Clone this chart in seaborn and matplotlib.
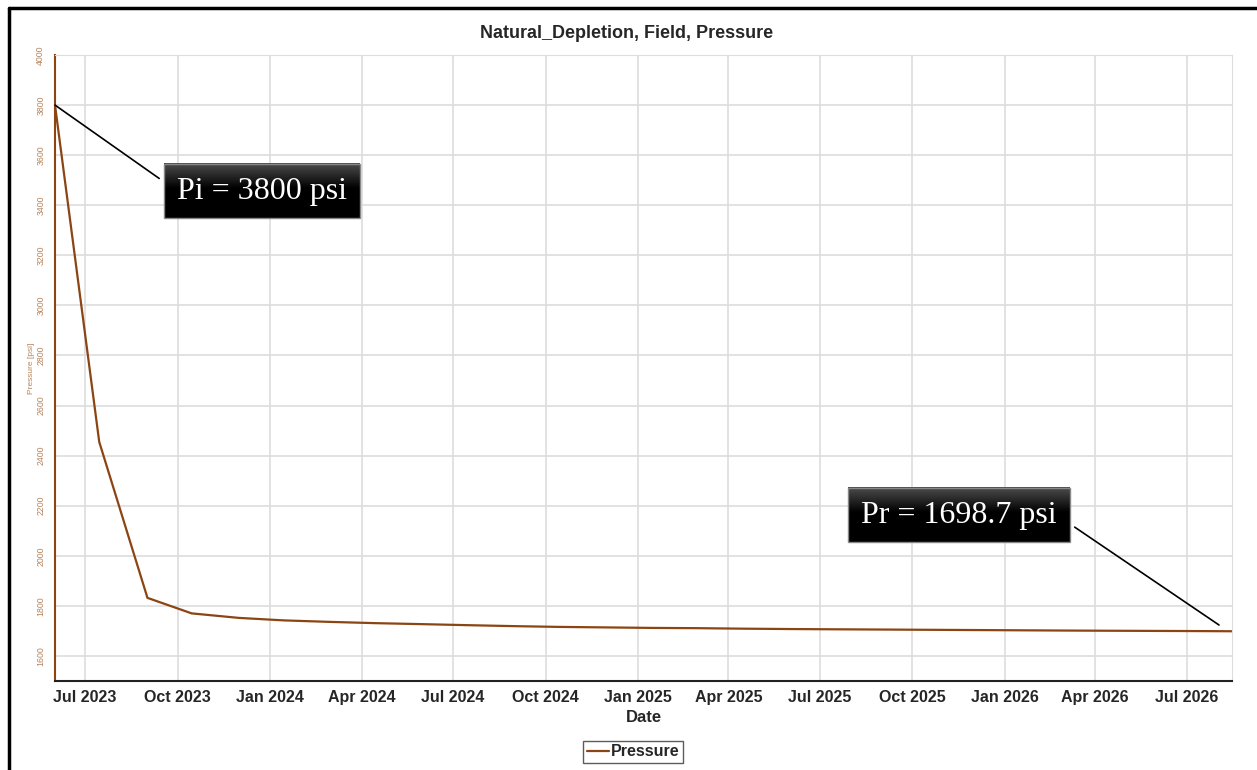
import matplotlib
matplotlib.use("Agg")
import matplotlib.pyplot as plt
import matplotlib.dates as mdates
from matplotlib.lines import Line2D
from matplotlib.ticker import MultipleLocator
import numpy as np
import pandas as pd
import seaborn as sns

# Field pressure report dates and values
dates = [
    "2023-06-01", "2023-07-15", "2023-09-01", "2023-10-15", "2023-12-01",
    "2024-01-15", "2024-03-01", "2024-04-15", "2024-06-01", "2024-07-15",
    "2024-09-01", "2024-10-15", "2024-12-01", "2025-01-15", "2025-03-01",
    "2025-04-15", "2025-06-01", "2025-07-15", "2025-09-01", "2025-10-15",
    "2025-12-01", "2026-01-15", "2026-03-01", "2026-04-15", "2026-06-01",
    "2026-07-15", "2026-08-15",
]
pressure = [
    3800.0, 2455.0, 1832.0, 1770.0, 1752.0,
    1742.0, 1736.0, 1731.0, 1727.0, 1723.0,
    1719.0, 1716.0, 1714.0, 1712.0, 1711.0,
    1709.0, 1707.5, 1706.5, 1705.5, 1704.5,
    1703.5, 1702.5, 1701.5, 1700.7, 1700.0,
    1699.3, 1698.7,
]
y_ticks = [1600, 1800, 2000, 2200, 2400, 2600, 2800, 3000, 3200, 3400, 3600, 3800, 4000]

df = pd.DataFrame({"Date": pd.to_datetime(dates), "Pressure": pressure})

BROWN = "#8B4513"
LIGHT_BROWN = "#b5845c"
GRID = "#dddddd"

sns.set_style("white")
plt.rcParams["font.family"] = ["Liberation Sans", "DejaVu Sans"]

W, H = 1257, 770
fig = plt.figure(figsize=(W / 100, H / 100), dpi=100)
ax = fig.add_axes([55 / W, 1 - 681 / H, (1232 - 55) / W, (681 - 55) / H])

sns.lineplot(data=df, x="Date", y="Pressure", ax=ax, color=BROWN, lw=1.6,
             label="Pressure", legend=False)

xlim = (mdates.date2num(pd.Timestamp("2023-06-01")),
        mdates.date2num(pd.Timestamp("2026-08-15")))
ylim = (1500, 4000)
ax.set_xlim(*xlim)
ax.set_ylim(*ylim)

# x axis: quarterly labels, monthly minor ticks
ax.xaxis.set_major_locator(mdates.MonthLocator(bymonth=[1, 4, 7, 10]))
ax.xaxis.set_major_formatter(mdates.DateFormatter("%b %Y"))
ax.xaxis.set_minor_locator(mdates.MonthLocator())
ax.tick_params(axis="x", which="major", length=5, width=1, color="#222222",
               labelsize=11.5, pad=10)
ax.tick_params(axis="x", which="minor", length=3, width=1, color="#222222")
for lbl in ax.get_xticklabels():
    lbl.set_fontweight("bold")
    lbl.set_va("baseline")

# y axis
ax.set_yticks(y_ticks)
ax.yaxis.set_minor_locator(MultipleLocator(40))
ax.tick_params(axis="y", which="major", length=4, width=1, color=BROWN,
               labelsize=6.3, labelcolor=LIGHT_BROWN, pad=3)
ax.tick_params(axis="y", which="minor", length=2.5, width=1, color=BROWN)
for lbl in ax.get_yticklabels():
    lbl.set_rotation(90)
    lbl.set_va("center")

ax.grid(True, which="major", color=GRID, lw=1.2)
ax.set_axisbelow(True)

ax.spines["left"].set_color(BROWN)
ax.spines["left"].set_linewidth(1.5)
ax.spines["bottom"].set_color("#222222")
ax.spines["bottom"].set_linewidth(1.5)
ax.spines["top"].set_color(GRID)
ax.spines["right"].set_color(GRID)

ax.set_xlabel("Date", fontsize=12, fontweight="bold", labelpad=4)
ax.set_ylabel("Pressure [psi]", fontsize=6, color=LIGHT_BROWN, labelpad=1)

fig.text(627 / W, 1 - 33 / H, "Natural_Depletion, Field, Pressure",
         ha="center", va="center", fontsize=13, fontweight="bold")

# callouts for initial and final pressure
box = dict(boxstyle="square,pad=0.4", fc="none", ec="#888888", lw=1)
callout_style = dict(ha="center", va="center", color="white", fontsize=23,
                     family="Liberation Serif", bbox=box, zorder=6)
first = df.iloc[0]
last = df.iloc[-1]
callouts = [
    ax.annotate(f"Pi = {first.Pressure:.0f} psi",
                xy=(mdates.date2num(first.Date), first.Pressure), xycoords="data",
                xytext=(262, H - 191), textcoords="figure pixels",
                arrowprops=dict(arrowstyle="-", color="black", lw=1.2,
                                relpos=(0, 0.5), shrinkA=4, shrinkB=0),
                **callout_style),
    ax.annotate(f"Pr = {last.Pressure:.1f} psi",
                xy=(1219, H - 625), xycoords="figure pixels",
                xytext=(959, H - 515), textcoords="figure pixels",
                arrowprops=dict(arrowstyle="-", color="black", lw=1.2,
                                relpos=(1, 0.5), shrinkA=4, shrinkB=0),
                **callout_style),
]

# glossy dark fill behind each callout box
fig.canvas.draw()
shade = np.concatenate([np.linspace(0.30, 0.0, 30), np.zeros(34)])[:, None]
to_data = ax.transData.inverted()
for ann in callouts:
    ext = ann.get_bbox_patch().get_window_extent()
    (x0, y0), (x1, y1) = to_data.transform([[ext.x0, ext.y0], [ext.x1, ext.y1]])
    ax.imshow(shade, cmap="gray", vmin=0, vmax=1, aspect="auto",
              extent=(x0, x1, y0, y1), origin="upper", zorder=5,
              interpolation="bilinear")
ax.set_xlim(*xlim)
ax.set_ylim(*ylim)
ax.set_aspect("auto")

# legend below the plot
handles = [Line2D([], [], color=BROWN, lw=1.6)]
leg = fig.legend(handles, ["Pressure"], loc="center",
                 bbox_to_anchor=(633 / W, 1 - 752 / H),
                 frameon=True, fancybox=False, edgecolor="#333333",
                 handlelength=1.4, handletextpad=0.1, borderpad=0.25,
                 prop={"weight": "bold", "size": 11.5})
leg.get_frame().set_linewidth(1)

# window frame along the top and left edges
fig.add_artist(Line2D([9, 9], [0, H - 8], transform=None, color="black", lw=2.5))
fig.add_artist(Line2D([9, W], [H - 8, H - 8], transform=None, color="black", lw=2.5))

fig.savefig("out.png", dpi=100, facecolor="white")
